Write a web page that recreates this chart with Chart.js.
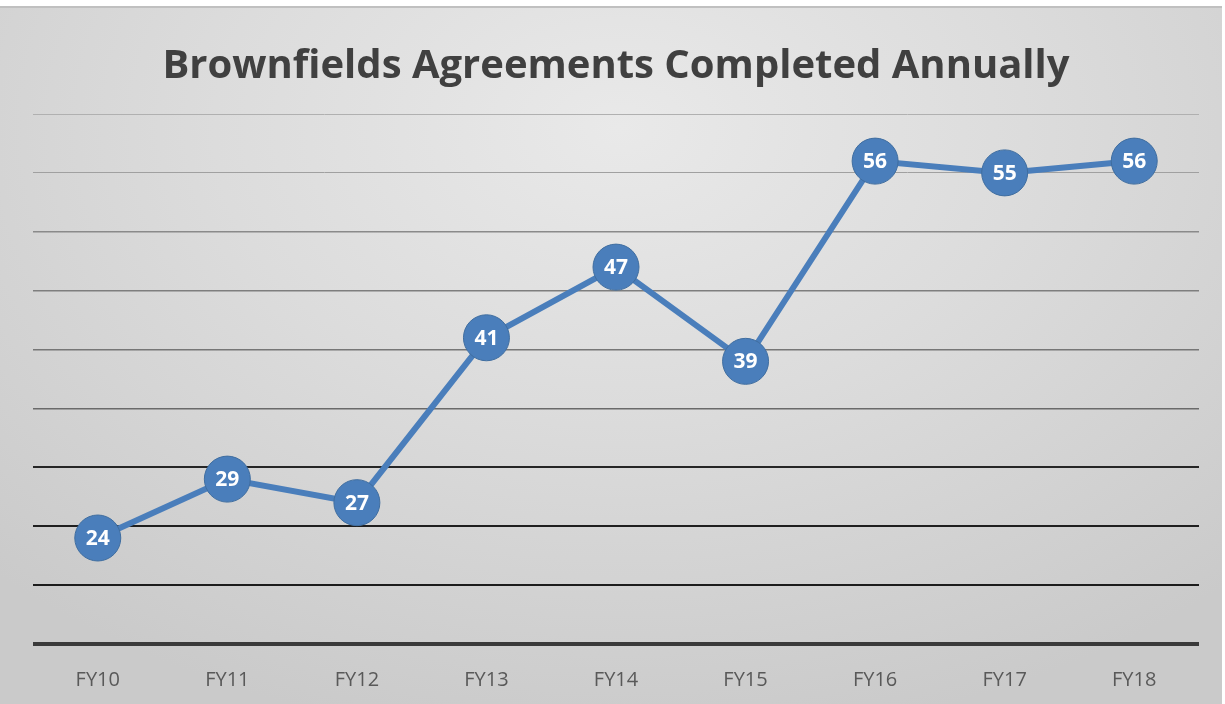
<!DOCTYPE html>
<html>
<head>
<meta charset="utf-8">
<script src="https://cdn.jsdelivr.net/npm/chart.js@4/dist/chart.umd.min.js"></script>
<style>
  html, body { margin: 0; padding: 0; }
  body { width: 1225px; height: 704px; background: #fff; position: relative; }
  #wrap {
    position: absolute; left: 0; top: 6px; width: 1222px; height: 696px;
    background: radial-gradient(ellipse 900px 620px at 620px 120px, #e9e9e9 0%, #dcdcdc 45%, #cacaca 100%);
    border-top: 2px solid #c0c0c0;
  }
  #c { position: absolute; left: 0; top: 0; }
</style>
</head>
<body>
<div id="wrap"></div>
<canvas id="c" width="1225" height="704"></canvas>
<script>
const categories = ["FY10","FY11","FY12","FY13","FY14","FY15","FY16","FY17","FY18"];
const agreements = [24, 29, 27, 41, 47, 39, 56, 55, 56];
const yMin = 15, yMax = 60, yStep = 5;
const titleText = "Brownfields Agreements Completed Annually";

const gridColors = ["#3a3a3a","#1c1c1c","#1f1f1f","#262626","#6a6a6a","#767676","#7e7e7e","#8a8a8a","#a0a0a0","#b0b0b0"];
const gridWidths = [4, 2, 2, 2, 1.5, 1.5, 1.5, 1.5, 1, 1];

const labelPlugin = {
  id: 'pointLabels',
  afterDatasetsDraw(chart) {
    const ctx = chart.ctx;
    const meta = chart.getDatasetMeta(0);
    ctx.save();
    ctx.fillStyle = '#ffffff';
    ctx.font = 'bold 21px "Open Sans", sans-serif';
    ctx.textAlign = 'center';
    ctx.textBaseline = 'middle';
    meta.data.forEach((pt, i) => {
      ctx.fillText(String(agreements[i]), pt.x, pt.y + 1);
    });
    ctx.restore();
  }
};

new Chart(document.getElementById('c'), {
  type: 'line',
  data: {
    labels: categories,
    datasets: [{
      data: agreements,
      borderColor: '#4a7ebb',
      borderWidth: 6,
      backgroundColor: '#4a7ebb',
      pointRadius: 23,
      pointHoverRadius: 23,
      pointBackgroundColor: '#4a7ebb',
      pointBorderColor: '#3f6d9f',
      pointBorderWidth: 1,
      tension: 0,
      clip: false
    }]
  },
  options: {
    responsive: false,
    animation: false,
    events: [],
    layout: { padding: { left: 33, right: 26, top: 0, bottom: 0 } },
    plugins: {
      legend: { display: false },
      tooltip: { enabled: false },
      title: {
        display: true,
        text: titleText,
        color: '#404040',
        font: { family: '"Open Sans", sans-serif', size: 40, weight: 'bold', lineHeight: 1.2 },
        padding: { top: 43, bottom: 23 }
      }
    },
    scales: {
      x: {
        offset: true,
        grid: { display: false, drawTicks: false },
        border: { display: false },
        ticks: { color: '#595959', font: { family: '"Open Sans", sans-serif', size: 20 }, padding: 24 },
        afterFit(scale) { scale.height = 60; }
      },
      y: {
        min: yMin, max: yMax,
        ticks: { display: false, stepSize: yStep },
        border: { display: false },
        grid: {
          drawTicks: false,
          color: ctx => gridColors[ctx.index] || '#aaa',
          lineWidth: ctx => gridWidths[ctx.index] || 1
        }
      }
    }
  },
  plugins: [labelPlugin]
});
</script>
</body>
</html>
